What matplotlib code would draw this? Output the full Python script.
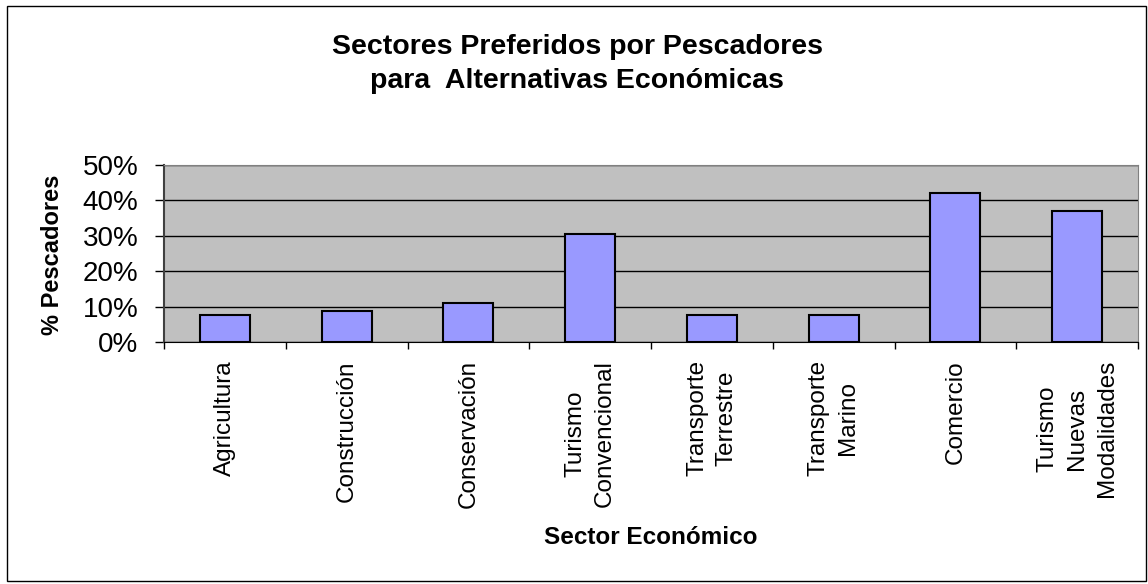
import matplotlib.pyplot as plt
from matplotlib.ticker import PercentFormatter

plt.rcParams['font.family'] = ['Liberation Sans', 'DejaVu Sans']

sectores = ["Agricultura", "Construcción", "Conservación", "Turismo\nConvencional",
            "Transporte\nTerrestre", "Transporte\nMarino", "Comercio",
            "Turismo\nNuevas\nModalidades"]
porcentajes = [7.6, 8.7, 11.1, 30.5, 7.6, 7.6, 42.0, 37.0]

W, H = 1148, 584
fig = plt.figure(figsize=(W / 100, H / 100), dpi=100)
ax = fig.add_axes([164 / W, 1 - 342 / H, (1138 - 164) / W, (342 - 165) / H])

ax.set_facecolor('#C0C0C0')
x = range(len(sectores))
ax.bar(x, porcentajes, width=0.41, color='#9999FF', edgecolor='black', linewidth=1.5, zorder=3)

ax.set_xlim(-0.5, len(sectores) - 0.5)
ax.set_ylim(0, 50)
ax.set_yticks([0, 10, 20, 30, 40, 50])
ax.yaxis.set_major_formatter(PercentFormatter(decimals=0))
ax.grid(axis='y', color='black', linewidth=1, zorder=1)

# ticks between categories, labels at category centres
ax.set_xticks([i - 0.5 for i in range(len(sectores) + 1)])
ax.set_xticklabels([])
ax.set_xticks(list(x), minor=True)
ax.set_xticklabels(sectores, minor=True, rotation=90, fontsize=17.5, va='top', ha='center',
                   multialignment='center', linespacing=1.45)
ax.tick_params(axis='x', which='minor', length=0, pad=13)
ax.tick_params(axis='x', which='major', length=5, width=1, direction='out')
ax.tick_params(axis='y', labelsize=20, length=6.5, width=1, pad=12)

for s in ['top', 'right']:
    ax.spines[s].set_color('#808080')
ax.spines['left'].set_color('#404040')
ax.spines['left'].set_linewidth(1.5)
ax.spines['bottom'].set_color('black')

fig.text(53 / W, 1 - 255 / H, '% Pescadores', fontsize=17, fontweight='bold',
         rotation=90, ha='center', va='center')
fig.text(651 / W, 1 - 538 / H, 'Sector Económico', fontsize=17.5, fontweight='bold',
         ha='center', va='center')
fig.text(577 / W, 1 - 64 / H, 'Sectores Preferidos por Pescadores\npara  Alternativas Económicas',
         fontsize=20.5, fontweight='bold', ha='center', va='center', linespacing=1.4)

border = plt.Rectangle((7 / W, 1 - 581 / H), (1146 - 7) / W, (581 - 6) / H,
                       transform=fig.transFigure, fill=False, edgecolor='black', linewidth=1)
fig.patches.append(border)

fig.savefig('out.png', dpi=100)
